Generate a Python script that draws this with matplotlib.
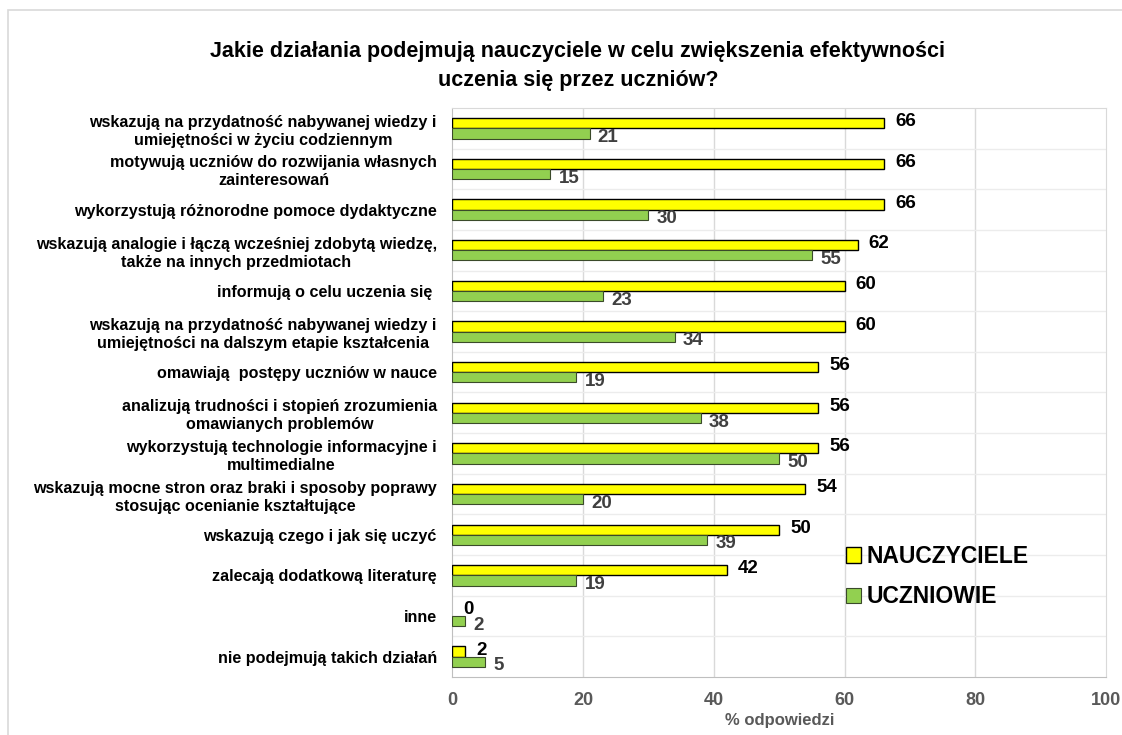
import matplotlib
matplotlib.use("Agg")
import matplotlib.pyplot as plt
from matplotlib.patches import Rectangle
import numpy as np

# --- data ---
categories = [
    "wskazują na przydatność nabywanej wiedzy i\numiejętności w życiu codziennym",
    "motywują uczniów do rozwijania własnych\nzainteresowań",
    "wykorzystują różnorodne pomoce dydaktyczne",
    "wskazują analogie i łączą wcześniej zdobytą wiedzę,\ntakże na innych przedmiotach",
    "informują o celu uczenia się ",
    "wskazują na przydatność nabywanej wiedzy i\numiejętności na dalszym etapie kształcenia",
    "omawiają  postępy uczniów w nauce",
    "analizują trudności i stopień zrozumienia\nomawianych problemów",
    "wykorzystują technologie informacyjne i\nmultimedialne",
    "wskazują mocne stron oraz braki i sposoby poprawy\nstosując ocenianie kształtujące",
    "wskazują czego i jak się uczyć",
    "zalecają dodatkową literaturę",
    "inne",
    "nie podejmują takich działań",
]
nauczyciele = [66, 66, 66, 62, 60, 60, 56, 56, 56, 54, 50, 42, 0, 2]
uczniowie = [21, 15, 30, 55, 23, 34, 19, 38, 50, 20, 39, 19, 2, 5]
series_names = ["NAUCZYCIELE", "UCZNIOWIE"]
x_ticks = [0, 20, 40, 60, 80, 100]

title = "Jakie działania podejmują nauczyciele w celu zwiększenia efektywności\nuczenia się przez uczniów?"

plt.rcParams['font.family'] = ['Liberation Sans', 'DejaVu Sans']
plt.rcParams['font.weight'] = 'bold'

fig = plt.figure(figsize=(11.22, 7.35), dpi=100)
ax = fig.add_axes([0.403, 0.079, 0.583, 0.774])

# outer chart border
fig.patches.append(Rectangle((8 / 1122, -0.01), 1.1, 1 - 10 / 735 + 0.01,
                             transform=fig.transFigure, fill=False,
                             edgecolor='#d9d9d9', linewidth=1.2))

n = len(categories)
y = np.arange(n)
h = 0.25

bars_n = ax.barh(y - h / 2, nauczyciele, height=h, color='#ffff00',
                 edgecolor='black', linewidth=1.0, label=series_names[0], zorder=3)
bars_u = ax.barh(y + h / 2, uczniowie, height=h, color='#92d050',
                 edgecolor='#3a4a2a', linewidth=0.8, label=series_names[1], zorder=3)

# zero-length bars: hide the edge stroke
for b in list(bars_n) + list(bars_u):
    if b.get_width() == 0:
        b.set_visible(False)

for v, yy in zip(nauczyciele, y - h / 2):
    ax.annotate(str(v), (v, yy), xytext=(8, 1), textcoords='offset points',
                ha='left', va='center', fontsize=13.5, fontweight='bold', color='black')
for v, yy in zip(uczniowie, y + h / 2):
    ax.annotate(str(v), (v, yy), xytext=(6, -3), textcoords='offset points',
                ha='left', va='center', fontsize=13.5, fontweight='bold', color='#404040')

ax.set_ylim(n - 0.5, -0.5)
ax.set_xlim(0, 100)
ax.set_xticks(x_ticks)
ax.set_yticks(y)
ax.set_yticklabels(categories, fontsize=11.6, fontweight='bold', multialignment='center',
                   linespacing=1.25)
ax.tick_params(axis='y', length=0, pad=11)
ax.tick_params(axis='x', length=0, pad=11, labelsize=13, labelcolor='#595959')
for lab in ax.get_xticklabels():
    lab.set_fontweight('bold')

# gridlines: vertical value lines + category separators
for xv in x_ticks[1:-1]:
    ax.axvline(xv, color='#d9d9d9', linewidth=1, zorder=0)
for b in np.arange(n - 1) + 0.5:
    ax.axhline(b, color='#ececec', linewidth=1, zorder=0)

for s in ax.spines.values():
    s.set_color('#d9d9d9')
ax.spines['bottom'].set_color('#bfbfbf')
ax.spines['left'].set_color('#bfbfbf')

ax.set_xlabel("% odpowiedzi", fontsize=12, fontweight='bold', color='#595959', labelpad=3)

fig.text(0.515, 0.910, title, ha='center', va='center', fontsize=15.5,
         fontweight='bold', linespacing=1.5)

ax.legend(loc='upper left', bbox_to_anchor=(0.57, 0.268), frameon=False,
          prop={'size': 16.5, 'weight': 'bold'}, handlelength=0.65,
          handleheight=0.65, handletextpad=0.25, labelspacing=0.75)

fig.savefig("out.png", dpi=100, facecolor='white')
